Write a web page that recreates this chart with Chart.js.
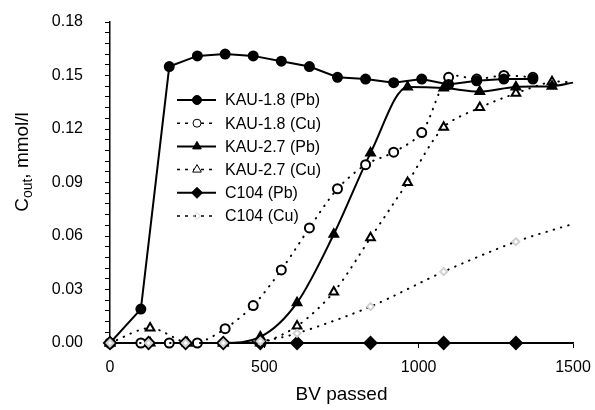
<!DOCTYPE html>
<html>
<head>
<meta charset="utf-8">
<script src="https://cdn.jsdelivr.net/npm/chart.js"></script>
<style>
  body { margin: 0; background: #fff; }
  canvas { display: block; }
</style>
</head>
<body>
<canvas id="myChart" width="595" height="410"></canvas>
<script>
// BV passed for each sampling series
const bvKau18 = [0, 100, 192, 283, 373, 464, 555, 646, 737, 828, 919, 1010, 1097, 1188, 1276, 1370];
const bvKau27 = [0, 130, 250, 367, 487, 606, 725, 844, 964, 1081, 1198, 1315, 1432, 1500];
const bvC104 = [0, 125, 245, 367, 487, 606, 844, 1081, 1315, 1500];

// C out, mmol/l
const kau18Pb = [0, 0.019, 0.155, 0.161, 0.162, 0.161, 0.158, 0.155, 0.149, 0.148, 0.146, 0.148, 0.145, 0.147, 0.148, 0.148];
const kau18Cu = [0, 0, 0, 0, 0.008, 0.021, 0.041, 0.0645, 0.0865, 0.100, 0.107, 0.118, 0.149, 0.148, 0.150, 0.149];
const kau27Pb = [0, 0, 0, 0, 0.0034, 0.0226, 0.061, 0.1065, 0.1436, 0.143, 0.141, 0.1436, 0.144, 0.146];
const kau27Cu = [0, 0.0084, 0, 0, 0, 0.0095, 0.0286, 0.059, 0.090, 0.121, 0.132, 0.140, 0.1465, 0.146];
const c104Pb = [0, 0, 0, 0, 0, 0, 0, 0, 0, 0];
const c104Cu = [0, 0, 0, 0, 0.001, 0.0054, 0.0204, 0.040, 0.0568, 0.0668];

const xTicks = [0, 500, 1000, 1500];
const yTicks = [0.00, 0.03, 0.06, 0.09, 0.12, 0.15, 0.18];

function pts(xs, ys) {
  return xs.map((x, i) => ({ x: x, y: ys[i] }));
}
// last point of the longer series only carries the line to the axis end
function radii(n, r, lastHidden) {
  return Array.from({ length: n }, (_, i) => (lastHidden && i === n - 1 ? 0 : r));
}

const dotted = [0.5, 7];
const fontFamily = "'Liberation Sans', Arial, sans-serif";

const insideLegend = {
  id: "insideLegend",
  afterDraw(chart) {
    const ctx = chart.ctx;
    chart.data.datasets.forEach((ds, i) => {
      const y = 100 + i * 23.2;
      ctx.save();
      ctx.strokeStyle = ds.borderColor;
      ctx.lineWidth = ds.borderDash ? 1.5 : 2;
      ctx.setLineDash(ds.borderDash ? [3, 5] : []);
      ctx.beginPath();
      ctx.moveTo(177, y);
      ctx.lineTo(216, y);
      ctx.stroke();
      ctx.setLineDash([]);
      ctx.fillStyle = ds.legendFill;
      ctx.strokeStyle = ds.pointBorderColor;
      ctx.lineWidth = 1;
      Chart.helpers.drawPoint(ctx, {
        pointStyle: ds.pointStyle,
        radius: ds.legendRadius,
        rotation: 0,
        borderWidth: 1,
      }, 197, y);
      ctx.fillStyle = "#000";
      ctx.font = "16px " + fontFamily;
      ctx.textBaseline = "middle";
      ctx.fillText(ds.label, 225, y + 1);
      ctx.restore();
    });

    // y axis title with subscript
    ctx.save();
    ctx.translate(28, 162);
    ctx.rotate(-Math.PI / 2);
    ctx.fillStyle = "#000";
    ctx.textBaseline = "alphabetic";
    const big = "19px " + fontFamily;
    const small = "14px " + fontFamily;
    ctx.font = big;
    const wC = ctx.measureText("C").width;
    ctx.font = small;
    const wSub = ctx.measureText("out").width;
    ctx.font = big;
    const wRest = ctx.measureText(", mmol/l").width;
    let x0 = -(wC + wSub + wRest) / 2;
    ctx.fillText("C", x0, 0);
    ctx.font = small;
    ctx.fillText("out", x0 + wC, 4);
    ctx.font = big;
    ctx.fillText(", mmol/l", x0 + wC + wSub, 0);
    ctx.restore();
  },
};

const ctx = document.getElementById("myChart");

new Chart(ctx, {
  type: "line",
  data: {
    datasets: [
      {
        label: "KAU-1.8 (Pb)",
        data: pts(bvKau18, kau18Pb),
        borderColor: "#000",
        borderWidth: 2,
        tension: 0,
        pointStyle: "circle",
        pointRadius: 4.5,
        legendRadius: 4.5,
        legendFill: "#000",
        pointBackgroundColor: "#000",
        pointBorderColor: "#000",
      },
      {
        label: "KAU-1.8 (Cu)",
        data: pts(bvKau18, kau18Cu),
        borderColor: "#000",
        borderWidth: 2,
        borderDash: dotted,
        borderCapStyle: "round",
        tension: 0.3,
        pointStyle: "circle",
        pointRadius: 4.5,
        legendRadius: 4,
        legendFill: "#fff",
        pointBackgroundColor: "#fff",
        pointBorderColor: "#000",
      },
      {
        label: "KAU-2.7 (Pb)",
        data: pts(bvKau27, kau27Pb),
        borderColor: "#000",
        borderWidth: 2,
        cubicInterpolationMode: "monotone",
        pointStyle: "triangle",
        pointRadius: radii(bvKau27.length, 5, true),
        legendRadius: 5,
        legendFill: "#000",
        pointBackgroundColor: "#000",
        pointBorderColor: "#000",
      },
      {
        label: "KAU-2.7 (Cu)",
        data: pts(bvKau27, kau27Cu),
        borderColor: "#000",
        borderWidth: 2,
        borderDash: dotted,
        borderCapStyle: "round",
        tension: 0.3,
        pointStyle: "triangle",
        pointRadius: radii(bvKau27.length, 5, true),
        legendRadius: 5,
        legendFill: "#fff",
        pointBackgroundColor: "#fff",
        pointBorderColor: "#000",
      },
      {
        label: "C104 (Pb)",
        data: pts(bvC104, c104Pb),
        borderColor: "#000",
        borderWidth: 2,
        tension: 0,
        pointStyle: "rectRot",
        pointRadius: radii(bvC104.length, 6, true),
        legendRadius: 5.5,
        legendFill: "#000",
        pointBackgroundColor: "#000",
        pointBorderColor: "#000",
      },
      {
        label: "C104 (Cu)",
        data: pts(bvC104, c104Cu),
        order: -1,
        borderColor: "#000",
        borderWidth: 2,
        borderDash: dotted,
        borderCapStyle: "round",
        tension: 0.3,
        pointStyle: "rectRot",
        pointRadius: radii(bvC104.length, 3.5, true),
        legendRadius: 3.5,
        legendFill: "rgba(255,255,255,0)",
        pointBackgroundColor: "#fff",
        pointBorderColor: "#d0d0d0",
      },
    ],
  },
  options: {
    responsive: false,
    animation: false,
    clip: false,
    layout: { padding: { top: 22, right: 22, left: 0, bottom: 0 } },
    plugins: {
      legend: { display: false },
      tooltip: { enabled: false },
    },
    scales: {
      x: {
        type: "linear",
        min: xTicks[0],
        max: xTicks[xTicks.length - 1],
        afterFit(scale) {
          scale.height = 67;
          scale.paddingLeft = 0;
          scale.paddingRight = 0;
        },
        afterBuildTicks(scale) { scale.ticks = xTicks.map((v) => ({ value: v })); },
        border: { color: "#000", width: 1.5 },
        grid: { drawOnChartArea: false, color: "#000", tickLength: 5 },
        ticks: {
          color: "#000",
          padding: 10,
          maxRotation: 0,
          font: { size: 16, family: fontFamily },
          callback: (v) => String(v),
        },
        title: {
          display: true,
          text: "BV passed",
          color: "#000",
          padding: { top: 0, bottom: 4 },
          font: { size: 19, family: fontFamily },
        },
      },
      y: {
        min: yTicks[0],
        max: yTicks[yTicks.length - 1],
        afterFit(scale) {
          scale.width = 110;
          scale.paddingTop = 0;
          scale.paddingBottom = 0;
        },
        border: { color: "#000", width: 1.5 },
        grid: { drawOnChartArea: false, color: "#000", tickLength: 5 },
        ticks: {
          stepSize: 0.006,
          autoSkip: false,
          color: "#000",
          padding: 22,
          font: { size: 16, family: fontFamily },
          callback: (v, i) => (i % 5 === 0 ? yTicks[i / 5].toFixed(2) : ""),
        },
      },
    },
  },
  plugins: [insideLegend],
});
</script>
</body>
</html>
